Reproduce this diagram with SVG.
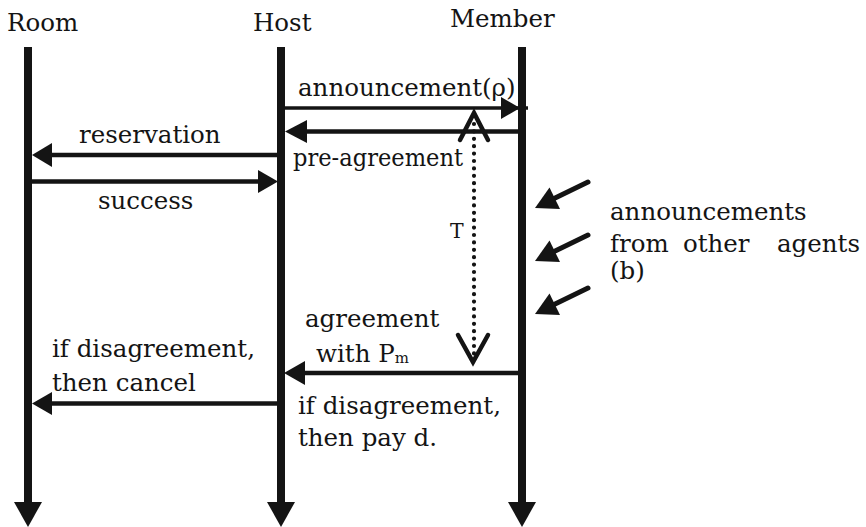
<svg xmlns="http://www.w3.org/2000/svg" width="866" height="527" viewBox="0 0 866 527">
<style>
  text { font-family: "DejaVu Serif", "Liberation Serif", serif; font-size: 24.5px; fill: #141414; }
  .life { stroke: #141414; stroke-width: 8; fill: none; }
  .msg { stroke: #141414; stroke-width: 4.5; fill: none; }
  .head { fill: #141414; stroke: none; }
  .dot { stroke: #141414; stroke-width: 4.2; stroke-dasharray: 0 7.4; stroke-linecap: round; fill: none; }
  .chev { stroke: #141414; stroke-width: 4.5; fill: none; stroke-linecap: round; stroke-linejoin: miter; }
  .ext { stroke: #141414; stroke-width: 5; stroke-linecap: round; fill: none; }
</style>
<rect width="866" height="527" fill="#ffffff"/>
<g id="room">
  <text x="7" y="31">Room</text>
  <line class="life" x1="28" y1="47" x2="28" y2="504"/>
  <polygon class="head" points="14,502 42,502 28,527"/>
</g>
<g id="host">
  <text x="253" y="31">Host</text>
  <line class="life" x1="281" y1="47" x2="281" y2="504"/>
  <polygon class="head" points="267,502 295,502 281,527"/>
</g>
<g id="member">
  <text x="450" y="27">Member</text>
  <line class="life" x1="522" y1="47" x2="522" y2="504"/>
  <polygon class="head" points="508,502 536,502 522,527"/>
</g>
<g id="other-agents">
  <text x="610" y="220">announcements</text>
  <text y="252"><tspan x="610">from</tspan><tspan x="683">other</tspan><tspan x="777">agents</tspan></text>
  <text x="610" y="279">(b)</text>
</g>
<g id="connectors">
  <!-- announcement -->
  <line class="msg" x1="285" y1="108" x2="528" y2="108" style="stroke-width:3.5"/>
  <polygon class="head" points="501,97 520,108 501,119"/>
  <text x="298" y="96">announcement(ρ)</text>
  <!-- pre-agreement -->
  <line class="msg" x1="518" y1="131.5" x2="300" y2="131.5"/>
  <polygon class="head" points="285,131.5 307,120 307,143"/>
  <text x="293" y="166" textLength="170" lengthAdjust="spacingAndGlyphs">pre-agreement</text>
  <!-- reservation -->
  <line class="msg" x1="277" y1="155" x2="45" y2="155"/>
  <polygon class="head" points="32,155 52,143 52,167"/>
  <text x="79" y="143">reservation</text>
  <!-- success -->
  <line class="msg" x1="32" y1="181.5" x2="265" y2="181.5"/>
  <polygon class="head" points="278,181.5 258,170 258,193"/>
  <text x="98" y="209">success</text>
  <!-- T interval -->
  <line class="dot" x1="474" y1="124" x2="474" y2="354"/>
  <polyline class="chev" points="460,140 474,113 488,140"/>
  <polyline class="chev" points="458,335 473,362 488,335"/>
  <text x="450" y="238" style="font-size:20.5px">T</text>
  <!-- announcements from other agents -->
  <g id="ext1">
    <line class="ext" x1="588" y1="182" x2="551" y2="200"/>
    <polygon class="head" points="535,208 549.5,187.5 560,209"/>
  </g>
  <g id="ext2" transform="translate(0,53)">
    <line class="ext" x1="588" y1="182" x2="551" y2="200"/>
    <polygon class="head" points="535,208 549.5,187.5 560,209"/>
  </g>
  <g id="ext3" transform="translate(0,106)">
    <line class="ext" x1="588" y1="182" x2="551" y2="200"/>
    <polygon class="head" points="535,208 549.5,187.5 560,209"/>
  </g>
  <!-- agreement -->
  <line class="msg" x1="518" y1="373" x2="295" y2="373"/>
  <polygon class="head" points="284,373 305,361 305,385"/>
  <text x="305" y="327">agreement</text>
  <text x="316" y="362">with P<tspan style="font-size:15px" dy="1">m</tspan></text>
  <text x="298" y="414">if disagreement,</text>
  <text x="298" y="446">then pay d.</text>
  <!-- cancel -->
  <line class="msg" x1="277" y1="403.5" x2="45" y2="403.5"/>
  <polygon class="head" points="32,403.5 52,392 52,415"/>
  <text x="52" y="357">if disagreement,</text>
  <text x="52" y="391">then cancel</text>
</g>
</svg>
